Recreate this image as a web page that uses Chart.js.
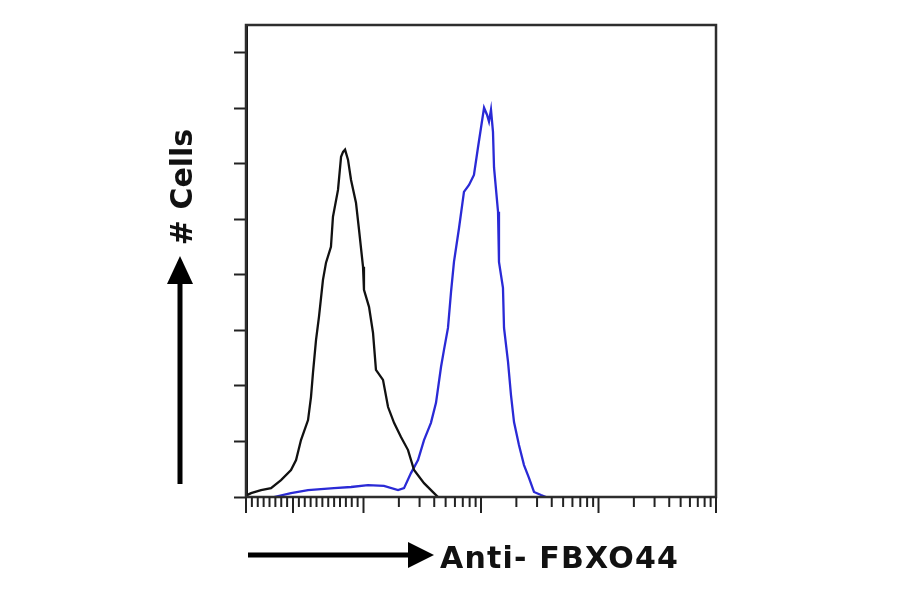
<!DOCTYPE html>
<html>
<head>
<meta charset="utf-8">
<script src="https://cdn.jsdelivr.net/npm/chart.js@4.4.0/dist/chart.umd.min.js"></script>
<style>
  body { margin: 0; background: #fff; }
  #wrap { position: relative; width: 900px; height: 594px; }
  #wrap canvas, #wrap svg { position: absolute; left: 0; top: 0; }
  .lbl { position: absolute; font-family: "DejaVu Sans"; font-weight: bold; font-size: 30px; line-height: 30px; color: #111; white-space: nowrap; }
  #xLabel { left: 440px; top: 543px; letter-spacing: 1.2px; }
  #yLabel { left: 182px; top: 187px; transform: translate(-50%, -50%) rotate(-90deg); }
</style>
</head>
<body>
<div id="wrap">
  <canvas id="myChart" width="900" height="594"></canvas>
  <svg width="900" height="594">
    <line x1="180" y1="484" x2="180" y2="278" stroke="#000" stroke-width="5"/>
    <polygon points="180,256 167,284 193,284" fill="#000"/>
    <line x1="248" y1="555" x2="412" y2="555" stroke="#000" stroke-width="5"/>
    <polygon points="434,555 408,542 408,568" fill="#000"/>
  </svg>
  <div class="lbl" id="yLabel"># Cells</div>
  <div class="lbl" id="xLabel">Anti- FBXO44</div>
</div>
<script>
// x values are in log decades (0 = first decade on the axis)
const blackX = [0.0, 0.043, 0.128, 0.213, 0.298, 0.383, 0.426, 0.468, 0.528, 0.553, 0.570, 0.596, 0.621, 0.655, 0.681, 0.723, 0.740, 0.783, 0.809, 0.826, 0.843, 0.868, 0.894, 0.936, 0.962, 0.996, 1.004, 1.047, 1.081, 1.106, 1.166, 1.209, 1.260, 1.319, 1.379, 1.430, 1.515, 1.600, 1.634];
const blackY = [0.5, 1.4, 2.5, 3.2, 6.1, 9.7, 13.3, 20.5, 27.7, 36.0, 44.7, 56.6, 64.9, 78.2, 84.4, 90.1, 100.9, 110.6, 122.5, 124.3, 125.1, 121.5, 114.2, 106.0, 96.2, 82.9, 74.6, 68.5, 59.1, 45.8, 42.2, 32.4, 26.7, 21.6, 16.9, 9.7, 5.0, 1.4, 0];

const blueX = [0.238, 0.383, 0.528, 0.749, 0.894, 1.038, 1.174, 1.294, 1.345, 1.404, 1.464, 1.515, 1.574, 1.617, 1.660, 1.685, 1.719, 1.745, 1.770, 1.813, 1.855, 1.898, 1.940, 1.974, 2.000, 2.026, 2.051, 2.068, 2.085, 2.102, 2.111, 2.145, 2.153, 2.187, 2.196, 2.230, 2.255, 2.281, 2.323, 2.366, 2.409, 2.451, 2.511, 2.553];
const blueY = [0, 1.4, 2.5, 3.2, 3.6, 4.3, 4.0, 2.5, 3.2, 8.6, 13.3, 20.5, 26.7, 33.9, 46.9, 53.0, 60.9, 73.9, 84.7, 96.9, 109.9, 112.4, 116.0, 125.8, 133.0, 140.2, 137.7, 135.2, 139.5, 131.5, 118.6, 102.7, 84.7, 75.3, 60.9, 48.7, 36.8, 27.0, 18.7, 11.5, 6.8, 1.8, 0.7, 0];

const yTickValues = [0, 20, 40, 60, 80, 100, 120, 140, 160];
const xMajorTicks = [0, 0.4, 1, 2, 3, 4];
const firstDecadeTicks = [0.05, 0.1, 0.15, 0.2, 0.25, 0.3, 0.35, 0.45, 0.5, 0.55, 0.6, 0.65, 0.7, 0.75, 0.8, 0.85, 0.9, 0.95];
const logMinor = [2, 3, 4, 5, 6, 7, 8, 9];

const xTickValues = [...xMajorTicks, ...firstDecadeTicks];
[1, 2, 3].forEach(d => logMinor.forEach(k => xTickValues.push(d + Math.log10(k))));

const toPoints = (xs, ys) => xs.map((x, i) => ({ x: x, y: ys[i] }));

const framePlugin = {
  id: 'frame',
  afterDraw(chart) {
    const { ctx, chartArea: a, scales: { x } } = chart;
    ctx.save();
    ctx.strokeStyle = '#2e2e2e';
    ctx.lineWidth = 2.5;
    ctx.strokeRect(a.left, a.top, a.right - a.left, a.bottom - a.top);
    ctx.strokeStyle = '#222';
    ctx.lineWidth = 2;
    x.ticks.forEach(t => {
      const px = x.getPixelForValue(t.value);
      const len = xMajorTicks.includes(t.value) ? 16 : 10;
      ctx.beginPath();
      ctx.moveTo(px, a.bottom);
      ctx.lineTo(px, a.bottom + len);
      ctx.stroke();
    });
    ctx.restore();
  }
};

const ctx = document.getElementById('myChart').getContext('2d');
new Chart(ctx, {
  type: 'line',
  data: {
    datasets: [
      { label: 'Isotype', data: toPoints(blackX, blackY), borderColor: '#111', borderWidth: 2.3, pointRadius: 0, tension: 0 },
      { label: 'Anti-FBXO44', data: toPoints(blueX, blueY), borderColor: '#2a2ad6', borderWidth: 2.3, pointRadius: 0, tension: 0 }
    ]
  },
  options: {
    responsive: false,
    animation: false,
    layout: { padding: { left: 234, right: 184, top: 25, bottom: 97 } },
    plugins: { legend: { display: false }, tooltip: { enabled: false } },
    scales: {
      x: {
        type: 'linear', min: 0, max: 4,
        afterBuildTicks: s => { s.ticks = xTickValues.map(v => ({ value: v })); },
        afterFit: s => { s.height = 0; },
        ticks: { display: false },
        grid: { display: false },
        border: { display: false }
      },
      y: {
        type: 'linear', min: 0, max: 170,
        afterBuildTicks: s => { s.ticks = yTickValues.map(v => ({ value: v })); },
        afterFit: s => { s.width = 12; },
        ticks: { display: false },
        grid: { drawOnChartArea: false, tickLength: 12, tickColor: '#222', tickWidth: 2 },
        border: { display: true, color: '#111', width: 3 }
      }
    }
  },
  plugins: [framePlugin]
});
</script>
</body>
</html>
